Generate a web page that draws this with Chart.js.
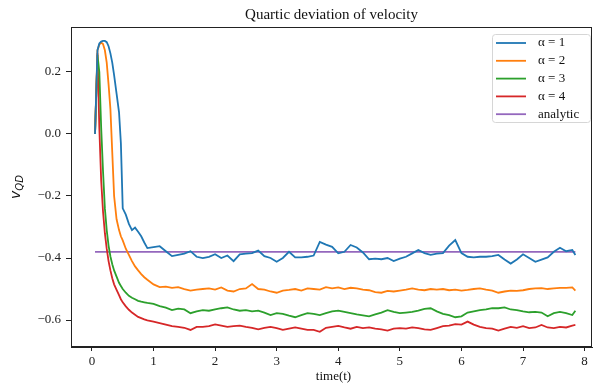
<!DOCTYPE html>
<html>
<head>
<meta charset="utf-8">
<script src="https://cdn.jsdelivr.net/npm/chart.js@4"></script>
<style>
  html, body { margin: 0; padding: 0; background: #fff; }
  #wrap { width: 594px; height: 385px; }
</style>
</head>
<body>
<div id="wrap"><canvas id="chart" width="594" height="385"></canvas></div>
<script>
// time axis (shared by the four runs)
const times = [0.05, 0.09, 0.12, 0.15, 0.18, 0.21, 0.24, 0.27, 0.30, 0.33, 0.36, 0.40, 0.44, 0.47, 0.50,
  0.55, 0.60, 0.65, 0.70, 0.75, 0.80, 0.85, 0.90,
  1.0, 1.1, 1.2, 1.3, 1.4, 1.5, 1.6, 1.7, 1.8, 1.9,
  2.0, 2.1, 2.2, 2.3, 2.4, 2.5, 2.6, 2.7, 2.8, 2.9,
  3.0, 3.1, 3.2, 3.3, 3.4, 3.5, 3.6, 3.7, 3.8, 3.9,
  4.0, 4.1, 4.2, 4.3, 4.4, 4.5, 4.6, 4.7, 4.8, 4.9,
  5.0, 5.1, 5.2, 5.3, 5.4, 5.5, 5.6, 5.7, 5.8, 5.9,
  6.0, 6.1, 6.2, 6.3, 6.4, 6.5, 6.6, 6.7, 6.8, 6.9,
  7.0, 7.1, 7.2, 7.3, 7.4, 7.5, 7.6, 7.7, 7.8, 7.85];

const alpha1 = [0.0, 0.27, 0.292, 0.298, 0.3, 0.3, 0.296, 0.283, 0.26, 0.23, 0.19, 0.13, 0.07, -0.03, -0.24,
  -0.26, -0.29, -0.31, -0.302, -0.315, -0.33, -0.35, -0.368,
  -0.365, -0.362, -0.378, -0.394, -0.39, -0.386, -0.378, -0.396, -0.4, -0.396,
  -0.388, -0.4, -0.392, -0.41, -0.388, -0.386, -0.384, -0.376, -0.394, -0.4,
  -0.412, -0.4, -0.38, -0.398, -0.398, -0.396, -0.392, -0.348, -0.357, -0.364,
  -0.385, -0.38, -0.358, -0.366, -0.382, -0.404, -0.402, -0.404, -0.4, -0.41,
  -0.402, -0.396, -0.385, -0.374, -0.384, -0.39, -0.386, -0.384, -0.36, -0.342,
  -0.384, -0.396, -0.398, -0.396, -0.396, -0.394, -0.39, -0.405, -0.418, -0.405,
  -0.388, -0.4, -0.412, -0.405, -0.398, -0.38, -0.367, -0.378, -0.374, -0.39];

const alpha2 = [0.0, 0.27, 0.288, 0.295, 0.29, 0.27, 0.23, 0.16, 0.08, -0.06, -0.2, -0.275, -0.31, -0.33, -0.343,
  -0.37, -0.39, -0.41, -0.427, -0.44, -0.452, -0.462, -0.47,
  -0.485, -0.494, -0.492, -0.496, -0.494, -0.5, -0.505, -0.502, -0.5, -0.498,
  -0.502, -0.495, -0.505, -0.508, -0.5, -0.498, -0.484, -0.5, -0.502, -0.508,
  -0.512, -0.505, -0.503, -0.5, -0.505, -0.498, -0.5, -0.502, -0.494, -0.498,
  -0.495, -0.5, -0.496, -0.498, -0.502, -0.504, -0.51, -0.512, -0.506, -0.508,
  -0.505, -0.502, -0.498, -0.502, -0.504, -0.5, -0.502, -0.5, -0.504, -0.502,
  -0.505, -0.503, -0.5, -0.498, -0.502, -0.505, -0.512, -0.508, -0.505, -0.506,
  -0.504, -0.5, -0.498, -0.497, -0.5, -0.498, -0.496, -0.496, -0.495, -0.505];

const alpha3 = [0.0, 0.255, 0.2, 0.02, -0.12, -0.24, -0.31, -0.36, -0.395, -0.42, -0.44, -0.46, -0.48, -0.49, -0.5,
  -0.512, -0.522, -0.528, -0.533, -0.538, -0.541, -0.543, -0.545,
  -0.548, -0.555, -0.56, -0.568, -0.563, -0.566, -0.578, -0.572, -0.568, -0.57,
  -0.566, -0.562, -0.559, -0.566, -0.57, -0.568, -0.572, -0.57, -0.576, -0.584,
  -0.578, -0.58, -0.586, -0.591, -0.584, -0.578, -0.58, -0.584, -0.578, -0.572,
  -0.57, -0.574, -0.578, -0.582, -0.585, -0.588, -0.582, -0.576, -0.568, -0.574,
  -0.578, -0.576, -0.574, -0.57, -0.564, -0.562, -0.572, -0.58, -0.584, -0.591,
  -0.588, -0.576, -0.572, -0.568, -0.566, -0.562, -0.562, -0.559, -0.566, -0.568,
  -0.572, -0.575, -0.574, -0.576, -0.588, -0.578, -0.574, -0.578, -0.584, -0.57];

const alpha4 = [0.0, 0.26, 0.02, -0.15, -0.25, -0.32, -0.37, -0.41, -0.44, -0.465, -0.485, -0.503, -0.52, -0.533, -0.543,
  -0.556, -0.567, -0.576, -0.583, -0.59, -0.594, -0.598, -0.601,
  -0.605, -0.61, -0.615, -0.62, -0.622, -0.625, -0.632, -0.622, -0.622, -0.62,
  -0.614, -0.618, -0.622, -0.62, -0.618, -0.622, -0.625, -0.63, -0.625, -0.622,
  -0.626, -0.632, -0.628, -0.624, -0.628, -0.632, -0.632, -0.638, -0.625, -0.622,
  -0.619, -0.624, -0.628, -0.622, -0.626, -0.624, -0.628, -0.63, -0.634, -0.628,
  -0.626, -0.628, -0.624, -0.626, -0.63, -0.632, -0.626, -0.62, -0.618, -0.613,
  -0.615, -0.605, -0.615, -0.622, -0.626, -0.628, -0.634, -0.628, -0.622, -0.625,
  -0.62, -0.626, -0.624, -0.616, -0.624, -0.626, -0.622, -0.624, -0.618, -0.616];

const analyticTimes = [0.05, 7.85];
const analyticValues = [-0.38, -0.38];

const seriesLabels = ['α = 1', 'α = 2', 'α = 3', 'α = 4', 'analytic'];
const colors = ['#1f77b4', '#ff7f0e', '#2ca02c', '#d62728', '#9467bd'];
const xTicks = [0, 1, 2, 3, 4, 5, 6, 7, 8];
const yTicks = [-0.6, -0.4, -0.2, 0.0, 0.2];

const serif = '"Liberation Serif", "DejaVu Serif", serif';

function pts(xs, ys) {
  return xs.map((x, i) => ({ x: x, y: ys[i] }));
}

const allSeries = [pts(times, alpha1), pts(times, alpha2), pts(times, alpha3), pts(times, alpha4),
  pts(analyticTimes, analyticValues)];

const datasets = allSeries.map((d, i) => ({
  label: seriesLabels[i],
  data: d,
  borderColor: colors[i],
  backgroundColor: colors[i],
  borderWidth: 1.8,
  pointRadius: 0,
  tension: 0,
  fill: false
}));

// frame, title, y label, legend
const extras = {
  id: 'extras',
  afterDraw(chart) {
    const ctx = chart.ctx;
    const a = chart.chartArea;
    ctx.save();
    ctx.strokeStyle = '#222';
    ctx.lineWidth = 1;
    ctx.strokeRect(a.left + 0.5, a.top + 0.5, a.right - a.left - 1, a.bottom - a.top - 1);

    const cx = (a.left + a.right) / 2;
    ctx.fillStyle = '#111';
    ctx.font = '15px ' + serif;
    ctx.textAlign = 'center';
    ctx.textBaseline = 'alphabetic';
    ctx.fillText('Quartic deviation of velocity', cx, 19);

    ctx.font = '13px ' + serif;
    ctx.fillText('time(t)', cx + 2, 380);

    // y label v_QD
    ctx.save();
    ctx.translate(20, (a.top + a.bottom) / 2);
    ctx.rotate(-Math.PI / 2);
    ctx.textAlign = 'left';
    ctx.font = 'italic 14px "DejaVu Sans"';
    const w1 = ctx.measureText('v').width;
    ctx.font = 'italic 10px "DejaVu Sans"';
    const w2 = ctx.measureText('QD').width;
    const start = -(w1 + w2) / 2;
    ctx.font = 'italic 14px "DejaVu Sans"';
    ctx.fillText('v', start, 0);
    ctx.font = 'italic 10px "DejaVu Sans"';
    ctx.fillText('QD', start + w1, 3);
    ctx.restore();

    // legend
    const lx = 492, ly = 34, lw = 98, lh = 88;
    ctx.beginPath();
    ctx.roundRect(lx + 0.5, ly + 0.5, lw, lh, 3);
    ctx.fillStyle = 'rgba(255,255,255,0.8)';
    ctx.fill();
    ctx.strokeStyle = '#d6d6d6';
    ctx.stroke();
    ctx.font = '13px ' + serif;
    ctx.textAlign = 'left';
    ctx.textBaseline = 'middle';
    chart.data.datasets.forEach((ds, i) => {
      const y = ly + 9 + i * 17.8;
      ctx.strokeStyle = ds.borderColor;
      ctx.lineWidth = 1.8;
      ctx.beginPath();
      ctx.moveTo(lx + 4, y);
      ctx.lineTo(lx + 34, y);
      ctx.stroke();
      ctx.fillStyle = '#111';
      ctx.fillText(ds.label, lx + 46, y);
    });
    ctx.restore();
  }
};

const fmt = v => {
  const s = Number(v).toFixed(1);
  return s.replace('-', '\u2212');
};

new Chart(document.getElementById('chart'), {
  type: 'line',
  data: { datasets },
  options: {
    responsive: false,
    animation: false,
    layout: { padding: { top: 27, right: 2, left: 0, bottom: 0 } },
    plugins: {
      legend: { display: false },
      title: { display: false },
      tooltip: { enabled: false }
    },
    scales: {
      x: {
        type: 'linear',
        min: -0.34,
        max: 8.12,
        afterBuildTicks: s => { s.ticks = xTicks.map(v => ({ value: v })); },
        afterFit: s => { s.height = 38; },
        grid: { drawOnChartArea: false, drawTicks: true, tickLength: 4, color: '#222' },
        border: { display: true, color: '#222', width: 1 },
        ticks: { color: '#222', font: { family: serif, size: 13 }, padding: 3, maxRotation: 0,
          callback: v => String(v) }
      },
      y: {
        type: 'linear',
        min: -0.687,
        max: 0.345,
        afterBuildTicks: s => { s.ticks = yTicks.map(v => ({ value: v })); },
        afterFit: s => { s.width = 71; },
        grid: { drawOnChartArea: false, drawTicks: true, tickLength: 5, color: '#222' },
        border: { display: true, color: '#222', width: 1 },
        ticks: { color: '#222', font: { family: serif, size: 13 }, padding: 5,
          callback: v => fmt(v) }
      }
    }
  },
  plugins: [extras]
});
</script>
</body>
</html>
